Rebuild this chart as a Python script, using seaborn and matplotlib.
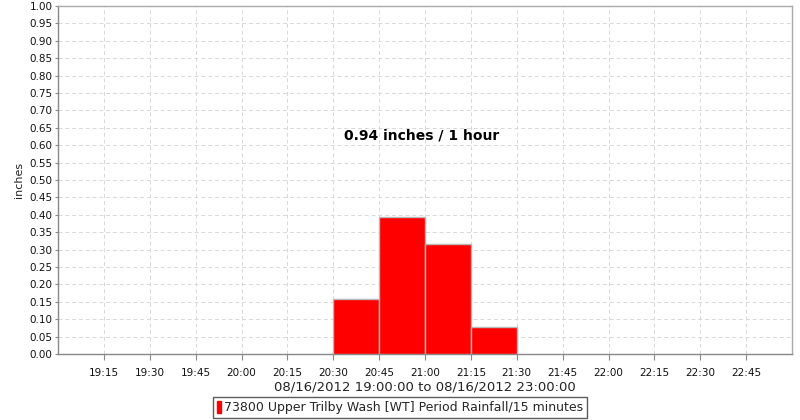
import matplotlib
matplotlib.use("Agg")
import matplotlib.pyplot as plt
import seaborn as sns
import pandas as pd
from matplotlib.patches import Patch
from matplotlib.ticker import FixedLocator, FixedFormatter

# data: period start (hours of day) and rainfall (inches) per 15 minutes
period_start = [20.5, 20.75, 21.0, 21.25]
rainfall = [0.157, 0.394, 0.315, 0.079]
tick_hours = [19.25, 19.5, 19.75, 20.0, 20.25, 20.5, 20.75, 21.0, 21.25, 21.5,
              21.75, 22.0, 22.25, 22.5, 22.75]
tick_labels = ["19:15", "19:30", "19:45", "20:00", "20:15", "20:30", "20:45", "21:00",
               "21:15", "21:30", "21:45", "22:00", "22:15", "22:30", "22:45"]
y_ticks = [i * 0.05 for i in range(21)]
title_text = "0.94 inches / 1 hour"
xlabel_text = "08/16/2012 19:00:00 to 08/16/2012 23:00:00"
legend_text = "73800 Upper Trilby Wash [WT] Period Rainfall/15 minutes"

sns.set_theme(style="white")
plt.rcParams["font.family"] = ["DejaVu Sans"]

df = pd.DataFrame({"start": period_start, "rain": rainfall})

fig = plt.figure(figsize=(8, 4.2), dpi=100)
ax = fig.add_axes([0.0725, 0.157, 0.9175, 0.8285])

sns.histplot(data=df, x="start", weights="rain", binwidth=0.25, binrange=(20.5, 21.5),
             color="#ff0000", alpha=1.0, edgecolor="#b8b8b8", linewidth=1.0, ax=ax,
             zorder=3)

ax.set_xlim(19.0, 23.0)
ax.set_ylim(0, 1.0)
ax.xaxis.set_major_locator(FixedLocator(tick_hours))
ax.xaxis.set_major_formatter(FixedFormatter(tick_labels))
ax.set_yticks(y_ticks)
ax.set_yticklabels([f"{v:.2f}" for v in y_ticks])

ax.grid(True, color="#d8d8d8", linestyle=(0, (4, 3)), linewidth=0.7, zorder=0)
ax.set_axisbelow(True)

for s in ["left", "bottom"]:
    ax.spines[s].set_color("#888888")
    ax.spines[s].set_linewidth(1.0)
for s in ["top", "right"]:
    ax.spines[s].set_color("#aaaaaa")
    ax.spines[s].set_linewidth(1.0)

ax.tick_params(axis="x", which="major", length=4, width=0.8, color="#888888",
               labelsize=7.5, labelcolor="#111111", pad=6, direction="out", bottom=True)
ax.tick_params(axis="y", which="major", length=2, width=0.8, color="#888888",
               labelsize=7.5, labelcolor="#111111", pad=2, direction="out", left=True)

ax.set_xlabel(xlabel_text, fontsize=9.5, color="#222222", labelpad=2)
ax.set_ylabel("inches", fontsize=8, color="#222222", labelpad=4)

ax.text(0.495, 0.627, title_text, transform=ax.transAxes, ha="center", va="center",
        fontsize=10, fontweight="bold", color="black")

handle = Patch(facecolor="#ff0000", edgecolor="#ff0000")
leg = fig.legend([handle], [legend_text], loc="center", bbox_to_anchor=(0.5, 0.03),
                 fontsize=9, frameon=True, fancybox=False, handlelength=0.35,
                 handleheight=1.2, handletextpad=0.2, borderpad=0.3,
                 borderaxespad=0)
leg.get_frame().set_edgecolor("#333333")
leg.get_frame().set_linewidth(1.0)

fig.savefig("out.png", dpi=100)
